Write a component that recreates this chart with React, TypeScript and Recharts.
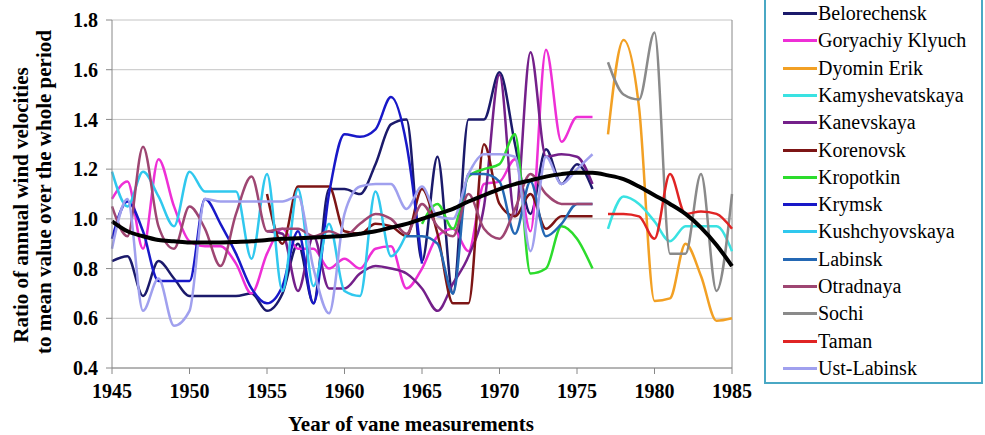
import { LineChart, Line, XAxis, YAxis, CartesianGrid, ReferenceLine, Label } from "recharts";

// yearly ratios
const belorechensk = [0.83, 0.85, 0.69, 0.83, 0.76, 0.69, 0.69, 0.69, 0.69, 0.7, 0.63, 0.7, 0.9, 0.66, 1.12, 1.12, 1.1, 1.22, 1.38, 1.4, 0.83, 1.25, 0.7, 1.4, 1.4, 1.59, 1.3, 1.02, 1.28, 1.14, 1.22, 1.12];
const goryachiyKlyuch = [1.08, 1.15, 0.88, 1.24, 1.05, 0.91, 0.89, 0.89, 0.82, 0.7, 0.86, 0.96, 0.88, 0.88, 0.8, 0.84, 0.8, 0.88, 0.89, 0.72, 0.8, 0.93, 0.96, 0.87, 1.14, 1.15, 1.24, 0.95, 1.68, 1.31, 1.41, 1.41];
const dyominErik = [1.34, 1.72, 1.45, 0.67, 0.68, 0.9, 0.77, 0.59, 0.6];
const kamyshevatskaya = [0.96, 1.09, 1.06, 0.99, 0.91, 0.97, 0.97, 0.97, 0.87];
const kanevskaya = [0.95, 0.94, 0.71, 0.93, 0.72, 0.72, 0.78, 0.81, 0.8, 0.78, 0.72, 0.63, 0.74, 0.85, 1.05, 1.58, 1.01, 1.67, 1.25, 1.26, 1.25, 1.14];
const korenovsk = [1.1, 0.9, 1.13, 1.13, 1.13, 0.95, 0.94, 0.98, 0.97, 0.93, 1.12, 0.94, 0.66, 0.66, 1.3, 1.06, 1.01, 1.1, 0.96, 1.01, 1.01, 1.01];
const kropotkin = [0.98, 1.06, 0.96, 1.17, 1.2, 1.22, 1.34, 0.78, 0.8, 0.97, 0.92, 0.8];
const krymsk = [0.92, 1.07, 0.95, 0.75, 0.75, 0.75, 1.08, 0.98, 0.86, 0.72, 0.66, 0.73, 0.95, 0.66, 1.1, 1.34, 1.33, 1.36, 1.49, 1.3, 0.82];
const kushchyovskaya = [1.19, 1.05, 1.19, 1.09, 0.97, 1.19, 1.11, 1.11, 1.11, 0.84, 1.18, 0.71, 1.12, 0.73, 0.98, 0.71, 0.69, 1.11, 0.85, 0.94];
const labinsk = [0.93, 0.93, 0.9, 0.7, 1.18, 1.18, 1.15, 0.94, 1.15, 0.93, 0.98, 1.06, 1.06];
const otradnaya = [1.05, 0.93, 1.29, 0.97, 0.88, 1.05, 0.96, 0.81, 1.02, 1.17, 0.95, 0.96, 0.96, 0.93, 0.95, 0.93, 0.98, 1.02, 1.0, 0.94, 1.06, 0.97, 0.93, 1.1, 0.96, 0.92, 1.04, 1.18, 1.1, 1.06, 1.06, 1.06];
const sochi = [1.63, 1.5, 1.48, 1.75, 0.86, 0.86, 1.18, 0.71, 1.1];
const taman = [1.02, 1.02, 1.01, 0.92, 1.18, 1.02, 1.03, 1.02, 0.96];
const ustLabinsk = [0.88, 1.08, 0.63, 0.76, 0.57, 0.63, 1.08, 1.07, 1.07, 1.07, 1.07, 1.07, 1.09, 0.8, 0.62, 1.02, 1.13, 1.14, 1.14, 1.04, 1.13, 1.01, 1.0, 1.18, 1.26, 1.26, 1.25, 0.87, 1.25, 1.14, 1.2, 1.26];

// polynomial trend (black), 1945..1985
const trend = [0.99, 0.95, 0.93, 0.915, 0.91, 0.905, 0.905, 0.905, 0.907, 0.91, 0.915, 0.92, 0.922, 0.925, 0.928, 0.932, 0.94, 0.95, 0.965, 0.98, 1.0, 1.02, 1.04, 1.07, 1.095, 1.12, 1.14, 1.155, 1.17, 1.18, 1.185, 1.185, 1.175, 1.16, 1.13, 1.095, 1.06, 1.02, 0.965, 0.895, 0.81];

const xTicks = [1945, 1950, 1955, 1960, 1965, 1970, 1975, 1980, 1985];
const yTicks = [0.4, 0.6, 0.8, 1.0, 1.2, 1.4, 1.6, 1.8];

const SERIES = [
  { name: "Belorechensk", color: "#1b1a6b", start: 1945, values: belorechensk },
  { name: "Goryachiy Klyuch", color: "#ee2fd6", start: 1945, values: goryachiyKlyuch },
  { name: "Dyomin Erik", color: "#f2a024", start: 1977, values: dyominErik },
  { name: "Kamyshevatskaya", color: "#3ae2e2", start: 1977, values: kamyshevatskaya },
  { name: "Kanevskaya", color: "#74208a", start: 1955, values: kanevskaya },
  { name: "Korenovsk", color: "#7d1515", start: 1955, values: korenovsk },
  { name: "Kropotkin", color: "#2cdc2c", start: 1965, values: kropotkin },
  { name: "Krymsk", color: "#1818c8", start: 1945, values: krymsk },
  { name: "Kushchyovskaya", color: "#30c8ee", start: 1945, values: kushchyovskaya },
  { name: "Labinsk", color: "#2468b4", start: 1964, values: labinsk },
  { name: "Otradnaya", color: "#9e4672", start: 1945, values: otradnaya },
  { name: "Sochi", color: "#8a8a8a", start: 1977, values: sochi },
  { name: "Taman", color: "#e02424", start: 1977, values: taman },
  { name: "Ust-Labinsk", color: "#a0a0ee", start: 1945, values: ustLabinsk },
];

const rows: any[] = [];
for (let y = 1945; y <= 1985; y++) {
  const r: any = { year: y, trend: trend[y - 1945] };
  SERIES.forEach((s) => {
    const i = y - s.start;
    r[s.name] = i >= 0 && i < s.values.length ? s.values[i] : null;
  });
  rows.push(r);
}

const FONT = "Times New Roman";
const tickStyle = { fontFamily: FONT, fontSize: 20, fontWeight: "bold", fill: "#000" };

export default function App() {
  return (
    <div style={{ position: "absolute", left: 0, top: 0, width: 985, height: 435, background: "#fff" }}>
      <LineChart width={985} height={435} data={rows} margin={{ top: 20, right: 253, bottom: 0, left: 0 }}>
        <CartesianGrid vertical={false} stroke="#c4c4c4" strokeWidth={1} />
        <XAxis
          dataKey="year"
          type="number"
          domain={[1945, 1985]}
          ticks={xTicks}
          height={67}
          tickSize={6}
          tickMargin={10}
          stroke="#888"
          tick={tickStyle}
        >
          <Label
            content={() => (
              <text x={411} y={431} textAnchor="middle" fontFamily={FONT} fontSize={21} fontWeight="bold" fill="#000">
                Year of vane measurements
              </text>
            )}
          />
        </XAxis>
        <YAxis
          domain={[0.4, 1.8]}
          ticks={yTicks}
          width={112}
          tickSize={6}
          tickMargin={8}
          stroke="#888"
          tick={tickStyle}
          tickFormatter={(v: number) => v.toFixed(1)}
        >
          <Label
            content={() => (
              <g fontFamily={FONT} fontSize={21} fontWeight="bold" fill="#000">
                <text transform="translate(28,205) rotate(-90)" textAnchor="middle">
                  Ratio of annual wind velocities
                </text>
                <text transform="translate(51,192) rotate(-90)" textAnchor="middle">
                  to mean value over the whole period
                </text>
              </g>
            )}
          />
        </YAxis>
        <ReferenceLine x={1985} stroke="#888" />
        {SERIES.map((s) => (
          <Line
            key={s.name}
            type="monotone"
            dataKey={s.name}
            stroke={s.color}
            strokeWidth={2.5}
            dot={false}
            connectNulls={false}
            isAnimationActive={false}
          />
        ))}
        <Line type="monotone" dataKey="trend" stroke="#000" strokeWidth={4} dot={false} isAnimationActive={false} />
      </LineChart>

      {/* legend box on the right */}
      <div
        style={{
          position: "absolute",
          left: 764,
          top: -2,
          width: 219,
          height: 386,
          border: "2.5px solid #4aa8c4",
          boxSizing: "border-box",
          fontFamily: FONT,
          fontSize: 20,
        }}
      >
        {SERIES.map((s, i) => (
          <div
            key={s.name}
            style={{ position: "absolute", left: 17, top: 13.5 + i * 27.3 - 12, height: 24, display: "flex", alignItems: "center", whiteSpace: "nowrap" }}
          >
            <span style={{ display: "inline-block", width: 34, height: 3, background: s.color, marginRight: 1 }} />
            {s.name}
          </div>
        ))}
      </div>
    </div>
  );
}
